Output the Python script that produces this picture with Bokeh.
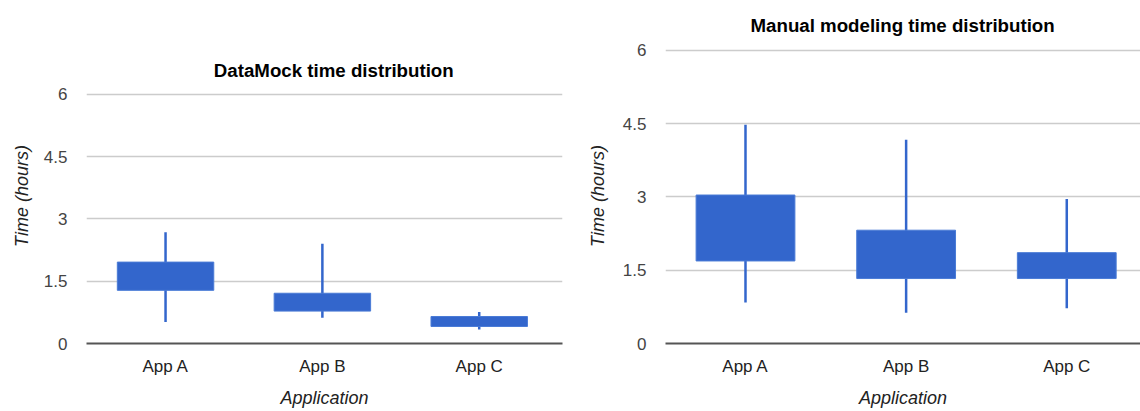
from bokeh.plotting import figure
from bokeh.models import Range1d, FixedTicker, NumeralTickFormatter, Label, ColumnDataSource
from bokeh.layouts import row
from bokeh.embed import file_html
from bokeh.resources import INLINE

# ---------------- data ----------------
apps = ["App A", "App B", "App C"]
y_ticks = [0, 1.5, 3, 4.5, 6]
x_title = "Application"
y_title = "Time (hours)"

dm_title = "DataMock time distribution"
dm_low = [0.52, 0.62, 0.34]
dm_q1 = [1.28, 0.78, 0.41]
dm_q3 = [1.96, 1.21, 0.65]
dm_high = [2.68, 2.40, 0.76]

mm_title = "Manual modeling time distribution"
mm_low = [0.84, 0.63, 0.72]
mm_q1 = [1.69, 1.33, 1.33]
mm_q3 = [3.04, 2.32, 1.86]
mm_high = [4.48, 4.17, 2.96]

# ---------------- style ----------------
FONT = "Liberation Sans"
BLUE = "#3366cc"


def make_chart(low, q1, q3, high, x_start, x_end, y_end, mb_left, mb_right,
               ylabel_standoff):
    idx = list(range(len(apps)))
    src = ColumnDataSource(dict(x=idx, low=low, q1=q1, q3=q3, high=high))
    p = figure(width=570, height=411, output_backend="svg", toolbar_location=None,
               x_range=Range1d(x_start, x_end), y_range=Range1d(0, y_end),
               min_border_left=mb_left, min_border_right=mb_right,
               min_border_top=47, min_border_bottom=68)
    p.outline_line_color = None
    p.background_fill_color = "white"
    p.border_fill_color = "white"

    p.segment(x0="x", y0="low", x1="x", y1="high", source=src,
              line_color=BLUE, line_width=2.5)
    p.vbar(x="x", bottom="q1", top="q3", width=0.615, source=src,
           fill_color=BLUE, line_color="#4a7bd6", line_width=1)

    # x axis
    xa = p.xaxis[0]
    xa.ticker = FixedTicker(ticks=idx)
    xa.major_label_overrides = {i: a for i, a in zip(idx, apps)}
    xa.major_tick_line_color = None
    xa.minor_tick_line_color = None
    xa.axis_line_color = "#555555"
    xa.axis_line_width = 2
    xa.major_label_standoff = 7
    xa.major_label_text_font = FONT
    xa.major_label_text_font_size = "17px"
    xa.major_label_text_color = "#222222"
    xa.axis_label = x_title
    xa.axis_label_standoff = 9
    xa.axis_label_text_font = FONT
    xa.axis_label_text_font_size = "18px"
    xa.axis_label_text_font_style = "italic"
    xa.axis_label_text_color = "#222222"

    # y axis
    ya = p.yaxis[0]
    ya.ticker = FixedTicker(ticks=y_ticks)
    ya.formatter = NumeralTickFormatter(format="0.[0]")
    ya.major_tick_line_color = None
    ya.minor_tick_line_color = None
    ya.axis_line_color = None
    ya.major_label_standoff = 13
    ya.major_label_text_font = FONT
    ya.major_label_text_font_size = "17px"
    ya.major_label_text_color = "#444444"
    ya.axis_label = y_title
    ya.axis_label_standoff = ylabel_standoff
    ya.axis_label_text_font = FONT
    ya.axis_label_text_font_size = "18px"
    ya.axis_label_text_font_style = "italic"
    ya.axis_label_text_color = "#222222"

    p.xgrid.grid_line_color = None
    p.ygrid.grid_line_color = "#cccccc"
    p.ygrid.grid_line_width = 1.5
    return p


left = make_chart(dm_low, dm_q1, dm_q3, dm_high,
                  x_start=-0.504, x_end=2.531, y_end=7.103,
                  mb_left=86, mb_right=8, ylabel_standoff=9)
left.add_layout(Label(x=0.308, y=6.57, text=dm_title, text_align="left",
                      text_baseline="alphabetic", text_font=FONT,
                      text_font_size="18.7px", text_font_style="bold",
                      text_color="#000000"))

right = make_chart(mm_low, mm_q1, mm_q3, mm_high,
                   x_start=-0.498, x_end=2.459, y_end=6.04,
                   mb_left=95, mb_right=0, ylabel_standoff=12)
right.title.text = mm_title
right.title.align = "left"
right.title.offset = 85
right.title.standoff = 25
right.title.text_font = FONT
right.title.text_font_size = "18.7px"
right.title.text_font_style = "bold"
right.title.text_color = "#000000"

layout = row(left, right, spacing=0)
open("out.html", "w").write(file_html(layout, INLINE))
